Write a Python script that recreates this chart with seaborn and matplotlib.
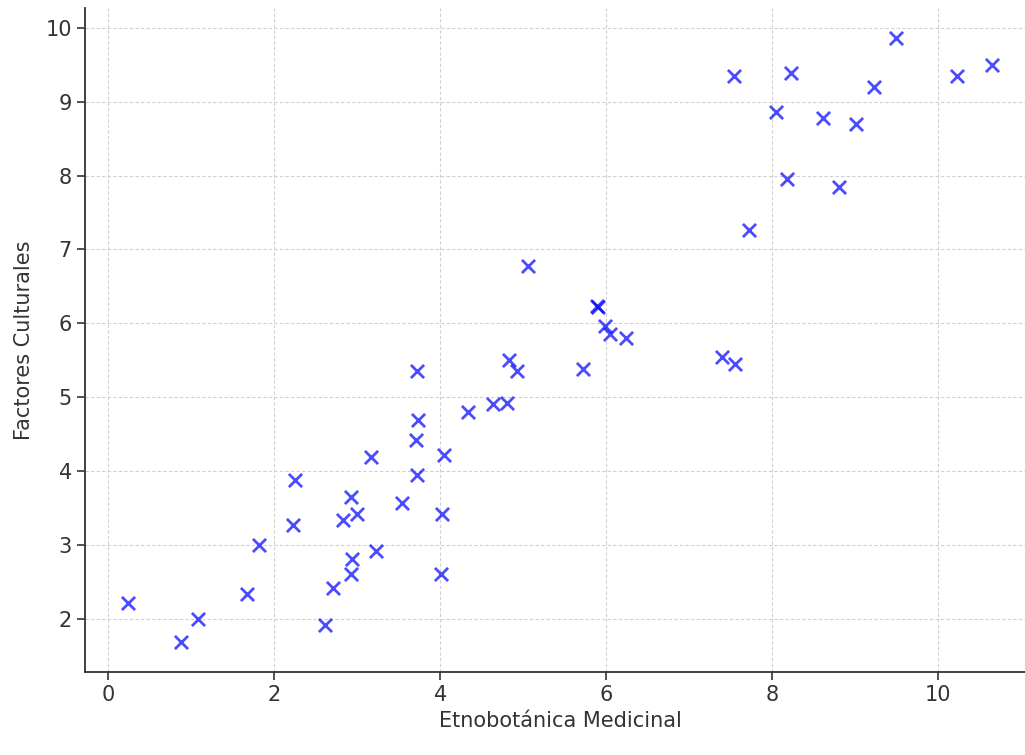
import matplotlib
matplotlib.use("Agg")
import matplotlib.pyplot as plt
import seaborn as sns
import pandas as pd

etnobotanica = [0.24, 0.87, 1.08, 1.67, 1.81, 2.22, 2.25, 2.61, 2.71, 2.83,
                2.93, 3.00, 2.93, 2.94, 3.22, 3.16, 3.54, 3.72, 3.73, 3.71,
                3.72, 4.04, 4.02, 4.01, 4.34, 4.63, 4.81, 4.83, 4.93, 5.06,
                5.72, 5.89, 5.90, 5.99, 6.04, 6.24, 7.40, 7.55, 7.54, 7.72,
                8.05, 8.18, 8.23, 8.61, 8.80, 9.01, 9.23, 9.49, 10.23, 10.65]
factores = [2.22, 1.69, 2.00, 2.34, 3.00, 3.27, 3.88, 1.93, 2.43, 3.35,
            3.66, 3.43, 2.62, 2.81, 2.93, 4.19, 3.58, 5.36, 4.70, 4.42,
            3.95, 4.22, 3.42, 2.61, 4.81, 4.91, 4.92, 5.50, 5.36, 6.78,
            5.39, 6.23, 6.22, 5.96, 5.86, 5.81, 5.55, 5.45, 9.34, 7.27,
            8.86, 7.95, 9.38, 8.78, 7.84, 8.69, 9.20, 9.86, 9.34, 9.50]

df = pd.DataFrame({"Etnobotánica Medicinal": etnobotanica,
                   "Factores Culturales": factores})

sns.set_style("ticks")
plt.rcParams['font.family'] = ['DejaVu Sans']

fig = plt.figure(figsize=(10.25, 7.55), dpi=100)
ax = fig.add_axes([0.083, 0.110, 0.927, 0.879])

sns.scatterplot(data=df, x="Etnobotánica Medicinal", y="Factores Culturales",
                marker="x", color="blue", alpha=0.7, s=90, linewidth=2.0, ax=ax)

ax.set_xlim(-0.28, 11.17)
ax.set_ylim(1.29, 10.26)
ax.set_xticks([0, 2, 4, 6, 8, 10])
ax.set_yticks([2, 3, 4, 5, 6, 7, 8, 9, 10])
ax.grid(True, linestyle=(0, (3, 2)), color="#d0d0d0", linewidth=0.8)
ax.set_axisbelow(True)
for side in ["top", "right"]:
    ax.spines[side].set_visible(False)
for side in ["left", "bottom"]:
    ax.spines[side].set_color("#333333")
    ax.spines[side].set_linewidth(1.3)
ax.tick_params(axis="both", labelsize=15, length=6, width=1.2, colors="#333333")
ax.set_xlabel("Etnobotánica Medicinal", fontsize=15, color="#333333")
ax.set_ylabel("Factores Culturales", fontsize=15, color="#333333", labelpad=8)

fig.savefig("out.png", dpi=100)
